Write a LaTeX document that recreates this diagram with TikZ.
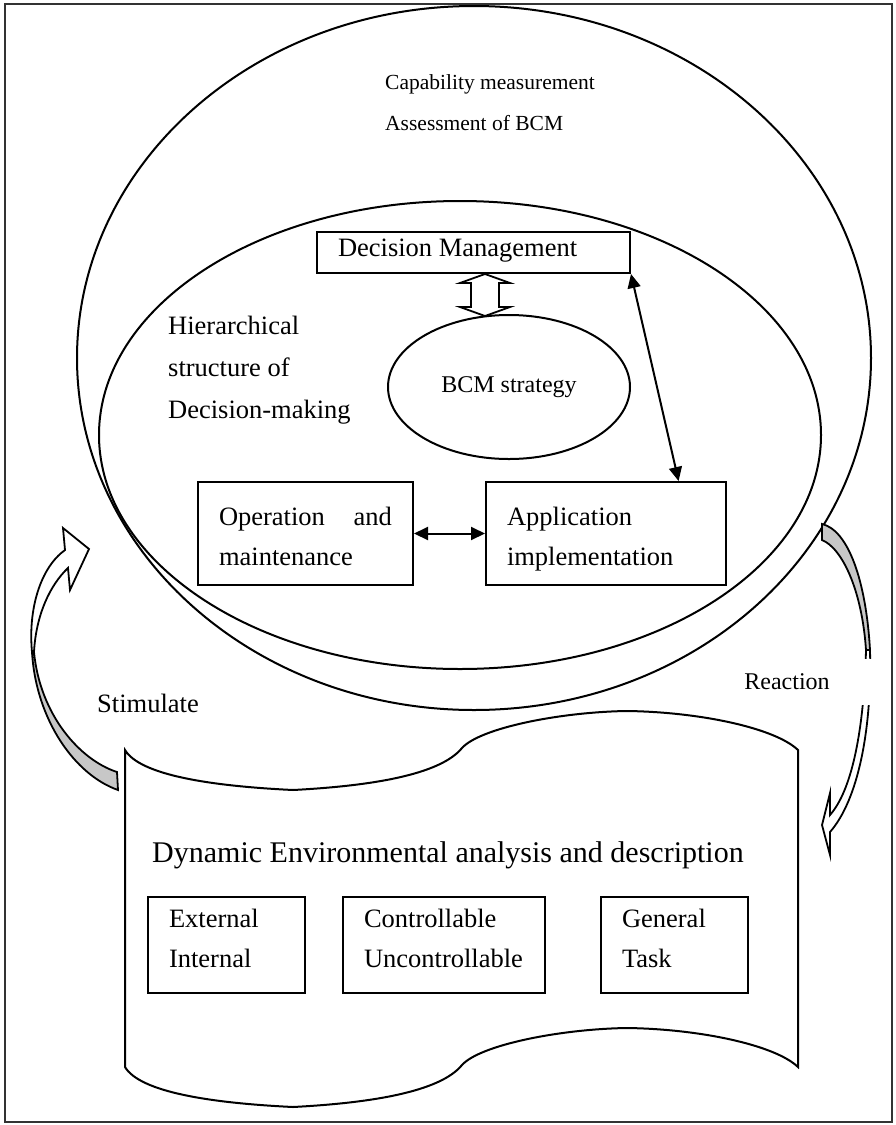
\documentclass[tikz,border=0pt]{standalone}
\usepackage{fontspec}
\setmainfont{Liberation Serif}
\usetikzlibrary{arrows.meta, positioning, calc, shapes.geometric}
\newcommand\bigsize{\fontsize{26.5}{42}\selectfont}
\newcommand\boxsize{\fontsize{26.5}{40}\selectfont}
\newcommand\midsize{\fontsize{24}{30}\selectfont}
\newcommand\smallsize{\fontsize{21.5}{41}\selectfont}
\newcommand\wide{\fontsize{30}{36}\selectfont}

\begin{document}
\begin{tikzpicture}[x=1pt, y=-1pt,
  %% -- node styles --
  box/.style    = {rectangle, draw, line width=2pt, inner xsep=21pt,
                   inner ysep=0pt, align=flush left, font=\boxsize},
  oval/.style   = {ellipse, draw, line width=2pt, inner sep=0pt},
  lbl/.style    = {inner sep=0pt, align=left, font=\bigsize},
  %% -- arrow styles --
  dbl/.style    = {{Triangle[length=14pt,width=13pt]}-{Triangle[length=14pt,width=13pt]},
                   line width=2pt},
  hollow/.style = {draw, line width=1.8pt, fill=white, line join=miter},
  shade/.style  = {draw, line width=1.8pt, fill=black!22, line join=miter},
]
\useasboundingbox (0,0) rectangle (895,1125);

%% frame
\draw[line width=2.5pt, black!80] (5,4) rectangle (892,1122);

%% the two rings
\node[oval, minimum width=794pt, minimum height=704pt] (outer) at (474,358) {};
\node[oval, minimum width=722pt, minimum height=468pt] (inner) at (460,435) {};

\node[lbl, font=\smallsize, anchor=north west] (cap) at (385,74)
      {Capability measurement\\Assessment of BCM};

%% decision level
\node[box, text width=271pt, minimum height=41pt, text height=18pt, text depth=10pt]
      (dm) at (473.5,252.5) {Decision Management};
\node[oval, minimum width=242pt, minimum height=144pt, font=\midsize] (strat) at (509,387)
      {BCM strategy\hspace{18pt}};
\node[lbl, anchor=north west] (hier) at (168,316)
      {Hierarchical\\structure of\\Decision-making};
\node[box, text width=173pt, minimum height=103pt] (op)  at (305.5,533.5)
      {\rule{0pt}{36pt}Operation\hfill and\\maintenance\strut};
\node[box, text width=198pt, minimum height=103pt] (app) at (606,533.5)
      {\rule{0pt}{36pt}Application\\implementation\strut};

\coordinate (dh) at (485,295);
\draw[hollow] (dh) ++(0,-21) -- ++(25,9) -- ++(-11,0) -- ++(0,24) -- ++(11,0)
      -- ++(-25,9) -- ++(-25,-9) -- ++(11,0) -- ++(0,-24) -- ++(-11,0) -- cycle;

\draw[dbl] (op) -- (app);
\draw[dbl] (dm.south east) -- ($(app.north west)!0.8!(app.north east)$);

%% environment sheet
\draw[line width=2pt]
  (125,750) .. controls (140,775) and (210,786) .. (293,790)
            .. controls (370,786) and (440,775) .. (462,748)
            .. controls (480,728) and (560,712) .. (627,711)
            .. controls (700,712) and (775,728) .. (798,750)
  -- (798,1067)
            .. controls (775,1045) and (700,1029) .. (627,1028)
            .. controls (560,1029) and (480,1045) .. (462,1065)
            .. controls (440,1092) and (370,1103) .. (293,1107)
            .. controls (210,1103) and (140,1092) .. (125,1067)
  -- cycle;

\node[lbl, font=\wide, anchor=base west] (env) at (152,862)
      {Dynamic Environmental analysis and description};
\node[box, text width=115pt, minimum height=96pt] (ext) at (226.5,945)
      {\strut External\\Internal\rule[-24pt]{0pt}{0pt}};
\node[box, text width=160pt, minimum height=96pt] (ctl) at (444,945)
      {\strut Controllable\\Uncontrollable\rule[-24pt]{0pt}{0pt}};
\node[box, text width=105pt, minimum height=96pt] (gen) at (674.5,945)
      {\strut General\\Task\rule[-24pt]{0pt}{0pt}};

%% stimulate (left)
\draw[shade] (32,652) .. controls (36,720) and (75,775) .. (118,790) -- (117,772)
      .. controls (80,760) and (40,715) .. (34,652) -- cycle;
\draw[hollow] (32,652) .. controls (28,610) and (40,568) .. (65,550)
      -- (63,528) -- (89,549) -- (70,590) -- (68,568)
      .. controls (50,585) and (36,615) .. (34,652) -- cycle;
\node[lbl] (stim) at (148,703) {Stimulate};

%% reaction (right)
\draw[shade] (822,524) .. controls (848,530) and (866,580) .. (870,650) -- (866,650)
      .. controls (862,590) and (842,548) .. (822,540) -- cycle;
\draw[hollow] (870,650) .. controls (872,730) and (858,800) .. (830,832)
      -- (830,855) -- (822,825) -- (830,793) -- (830,815)
      .. controls (852,790) and (864,730) .. (866,650) -- cycle;
\node[font=\midsize, fill=white, inner sep=0pt, minimum width=170pt,
      minimum height=46pt] (react) at (787,682) {Reaction};

\end{tikzpicture}
\end{document}
